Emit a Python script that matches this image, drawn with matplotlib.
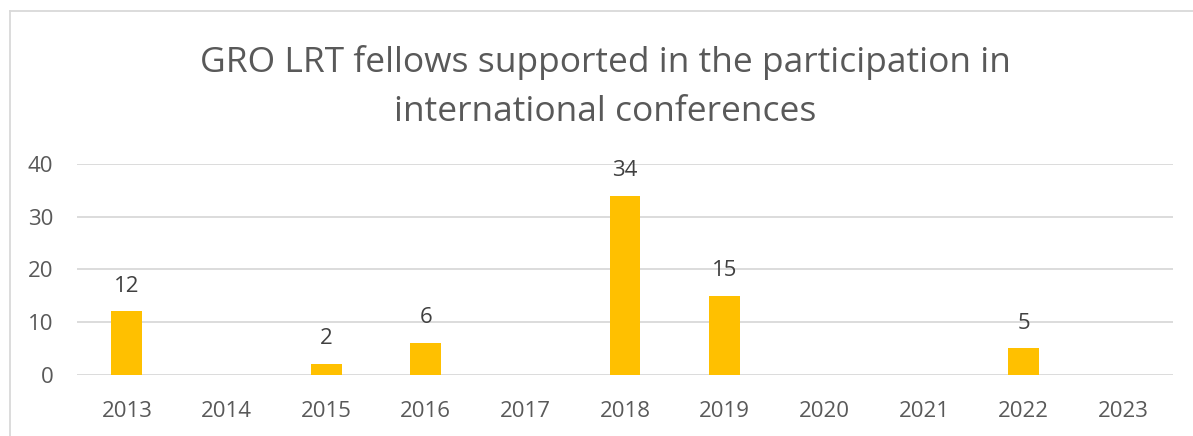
import matplotlib
matplotlib.use("Agg")
import matplotlib.pyplot as plt
from matplotlib.lines import Line2D

years = ["2013", "2014", "2015", "2016", "2017", "2018", "2019", "2020", "2021", "2022", "2023"]
values = [12, 0, 2, 6, 0, 34, 15, 0, 0, 5, 0]
labels = ["12", "", "2", "6", "", "34", "15", "", "", "5", ""]
yticks = [0, 10, 20, 30, 40]
title = "GRO LRT fellows supported in the participation in\ninternational conferences"

plt.rcParams['font.family'] = ['Open Sans', 'DejaVu Sans']

W, H = 1193, 436
fig = plt.figure(figsize=(W / 100, H / 100), dpi=100)
fig.patch.set_facecolor("white")

left, right, top, bottom = 77, 1173, 164, 374.5
ax = fig.add_axes([left / W, 1 - bottom / H, (right - left) / W, (bottom - top) / H])

x = list(range(len(years)))
bars = ax.bar(x, values, width=0.31, color="#FFC000", zorder=3)
ax.set_xlim(-0.5, len(years) - 0.5)
ax.set_ylim(0, 40)
ax.set_yticks(yticks)
ax.set_xticks(x)
ax.set_xticklabels(years)
ax.yaxis.grid(True, color="#D9D9D9", linewidth=1.3, zorder=0)
ax.set_axisbelow(True)
for s in ax.spines.values():
    s.set_visible(False)
ax.tick_params(axis="both", length=0, labelsize=16, colors="#595959")
ax.tick_params(axis="x", pad=19)
ax.tick_params(axis="y", pad=17)

for rect, lab in zip(bars, labels):
    if lab:
        ax.annotate(lab, (rect.get_x() + rect.get_width() / 2, rect.get_height()),
                    xytext=(0, 18), textcoords="offset points",
                    ha="center", va="center", fontsize=16, color="#404040")

fig.text(605 / W, 1 - 87 / H, title, ha="center", va="center", fontsize=25.5,
         color="#595959", linespacing=1.57)

fig.add_artist(Line2D([9.5 / W, 9.5 / W], [0, 1 - 11.5 / H], transform=fig.transFigure,
                      color="#D9D9D9", linewidth=1.3))
fig.add_artist(Line2D([9.5 / W, 1], [1 - 11.5 / H, 1 - 11.5 / H], transform=fig.transFigure,
                      color="#D9D9D9", linewidth=1.3))

fig.savefig("out.png", dpi=100, facecolor="white")
